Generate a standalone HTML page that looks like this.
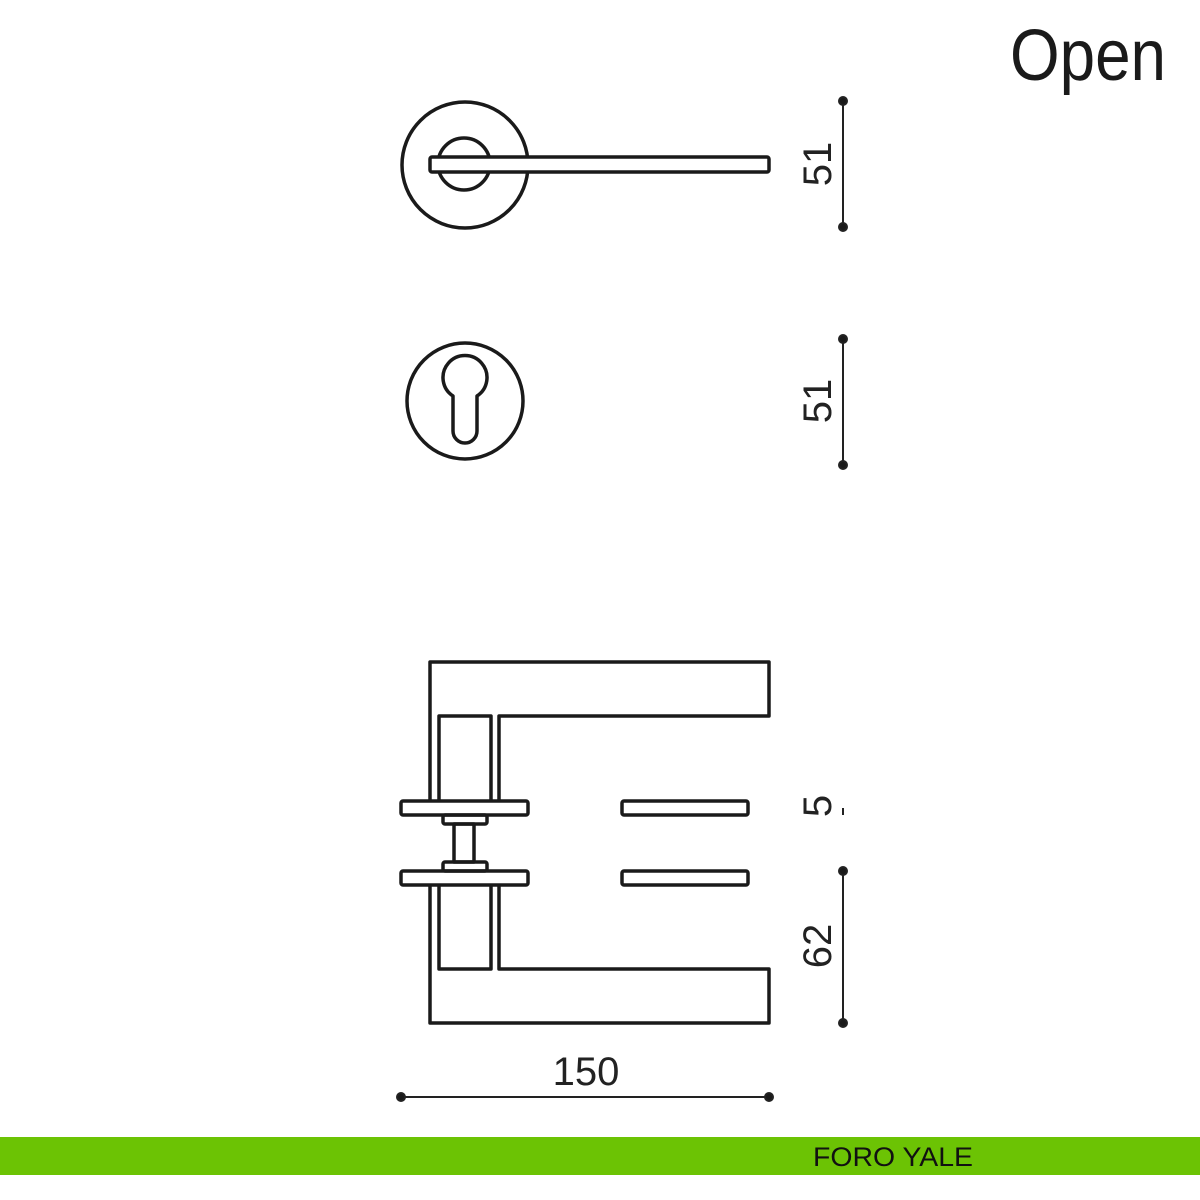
<!DOCTYPE html>
<html><head><meta charset="utf-8"><style>
html,body{margin:0;padding:0;background:#fff;}
svg{display:block}
text{font-family:"Liberation Sans",sans-serif;}
</style></head><body>
<svg width="1200" height="1200" viewBox="0 0 1200 1200" xmlns="http://www.w3.org/2000/svg">
<rect width="1200" height="1200" fill="#fff"/>
<text x="1010" y="80" font-size="72" fill="#1a1a1a" textLength="156" lengthAdjust="spacingAndGlyphs">Open</text>
<g fill="none" stroke="#1a1a1a" stroke-width="3.5" stroke-linejoin="round">
<circle cx="465" cy="165" r="63"/>
<circle cx="464" cy="164" r="26"/>
<rect x="430" y="157" width="339" height="15" rx="2" fill="#fff"/>
<circle cx="465" cy="401" r="58"/>
<path d="M453 396 A22 22 0 1 1 477 396 L477 431 A12 12 0 0 1 453 431 Z"/>
<path d="M430 800 L430 662 L769 662 L769 716 L499 716 L499 800"/>
<path d="M439 800 L439 716 L491 716 L491 800"/>
<rect x="401" y="801" width="127" height="14" rx="2"/>
<rect x="622" y="801" width="126" height="14" rx="2"/>
<rect x="443" y="815" width="44" height="9" rx="2"/>
<rect x="454" y="824" width="20" height="38"/>
<rect x="443" y="862" width="44" height="9" rx="2"/>
<rect x="401" y="871" width="127" height="14" rx="2"/>
<rect x="622" y="871" width="126" height="14" rx="2"/>
<path d="M430 886 L430 1023 L769 1023 L769 969 L499 969 L499 886"/>
<path d="M439 886 L439 969 L491 969 L491 886"/>
</g>
<g stroke="#222" stroke-width="2" fill="#1a1a1a">
<line x1="843" y1="101" x2="843" y2="227"/>
<circle cx="843" cy="101" r="4"/><circle cx="843" cy="227" r="4"/>
<line x1="843" y1="339" x2="843" y2="465"/>
<circle cx="843" cy="339" r="4"/><circle cx="843" cy="465" r="4"/>
<line x1="843" y1="808" x2="843" y2="815"/>
<line x1="843" y1="871" x2="843" y2="1023"/>
<circle cx="843" cy="871" r="4"/><circle cx="843" cy="1023" r="4"/>
<line x1="401" y1="1097" x2="769" y2="1097"/>
<circle cx="401" cy="1097" r="4"/><circle cx="769" cy="1097" r="4"/>
</g>
<g fill="#222" font-size="40">
<text transform="translate(831,164) rotate(-90)" text-anchor="middle">51</text>
<text transform="translate(831,401) rotate(-90)" text-anchor="middle">51</text>
<text transform="translate(831,806) rotate(-90)" text-anchor="middle">5</text>
<text transform="translate(831,946) rotate(-90)" text-anchor="middle">62</text>
<text x="586" y="1085" text-anchor="middle">150</text>
</g>
<rect x="0" y="1137" width="1200" height="38" fill="#6cc304"/>
<text x="813" y="1166" font-size="27" fill="#111" textLength="160" lengthAdjust="spacingAndGlyphs">FORO YALE</text>
</svg>
</body></html>
